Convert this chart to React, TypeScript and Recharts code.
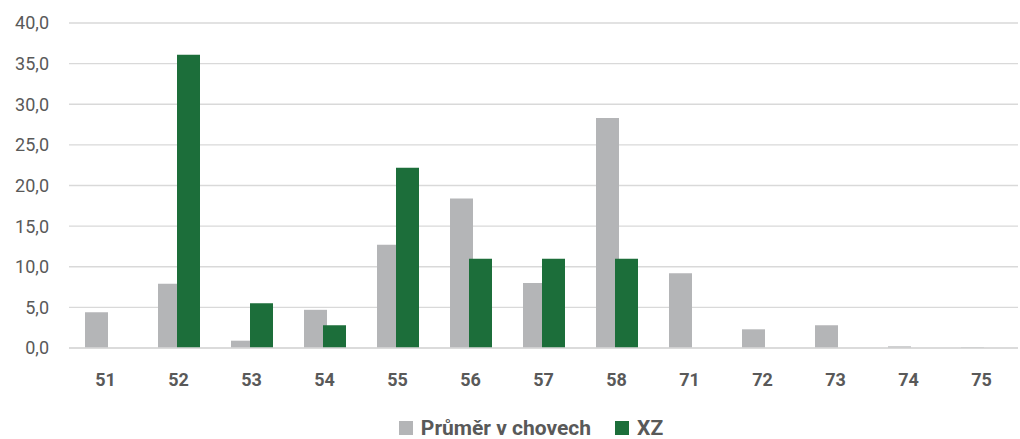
import React from "react";
import { BarChart, Bar, XAxis, YAxis, CartesianGrid, Legend } from "recharts";

const categories = ["51", "52", "53", "54", "55", "56", "57", "58", "71", "72", "73", "74", "75"];
const prumerValues = [4.4, 7.9, 0.9, 4.7, 12.7, 18.4, 8.0, 28.3, 9.2, 2.3, 2.8, 0.2, 0.1];
const xzValues = [0, 36.1, 5.5, 2.8, 22.2, 11.0, 11.0, 11.0, 0, 0, 0, 0, 0];
const yTicks = [0, 5, 10, 15, 20, 25, 30, 35, 40];

const chartData = categories.map((c, i) => ({
  cat: c,
  prumer: prumerValues[i],
  xz: xzValues[i],
}));

const GRAY = "#B4B5B7";
const GREEN = "#1C6E3A";
const TEXT = "#595959";
const FONT = "Roboto, sans-serif";

const renderLegend = (props: any) => {
  const { payload } = props;
  return (
    <div style={{ display: "flex", justifyContent: "center", alignItems: "center", fontFamily: FONT, paddingLeft: 44 }}>
      {payload.map((p: any, i: number) => (
        <div key={i} style={{ display: "flex", alignItems: "center", marginLeft: i ? 24 : 0 }}>
          <span style={{ width: 14, height: 14, background: p.color, display: "inline-block", marginRight: 8 }} />
          <span style={{ fontSize: 21, fontWeight: 700, color: TEXT }}>{p.value}</span>
        </div>
      ))}
    </div>
  );
};

export default function App() {
  return (
    <div style={{ position: "absolute", left: 0, top: 0, background: "#fff" }}>
      <BarChart
        width={1020}
        height={439}
        data={chartData}
        margin={{ top: 23, right: 2, left: 0, bottom: 0 }}
        barSize={23}
        barGap={-4}
      >
        <CartesianGrid vertical={false} stroke="#D9D9D9" strokeWidth={1.3} />
        <XAxis
          dataKey="cat"
          axisLine={{ stroke: "#D9D9D9", strokeWidth: 1.3 }}
          tickLine={false}
          tickSize={0}
          tickMargin={25}
          height={61}
          interval={0}
          tick={{ fontSize: 18, fontWeight: 700, fill: TEXT, fontFamily: FONT }}
        />
        <YAxis
          domain={[0, 40]}
          ticks={yTicks}
          axisLine={false}
          tickLine={false}
          tickSize={0}
          tickMargin={20}
          width={69}
          tickFormatter={(v: number) => v.toFixed(1).replace(".", ",")}
          tick={{ fontSize: 18, fill: TEXT, fontFamily: FONT }}
        />
        <Legend
          verticalAlign="bottom"
          content={renderLegend}
          wrapperStyle={{ bottom: -7, height: 30 }}
        />
        <Bar dataKey="prumer" name="Průměr v chovech" fill={GRAY} isAnimationActive={false} />
        <Bar dataKey="xz" name="XZ" fill={GREEN} isAnimationActive={false} />
      </BarChart>
    </div>
  );
}
